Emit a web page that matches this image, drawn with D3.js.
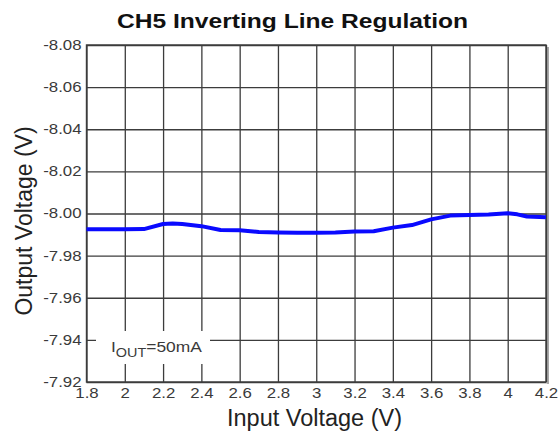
<!DOCTYPE html>
<html>
<head>
<meta charset="utf-8">
<script src="https://cdn.jsdelivr.net/npm/d3@7"></script>
<style>
  html, body { margin: 0; padding: 0; background: #fff; }
  svg { display: block; font-family: Arial, "Liberation Sans", sans-serif; }
</style>
</head>
<body>
<svg id="chart" width="560" height="432"></svg>
<script>
// Input voltage sweep (V) and measured CH5 output voltage (V)
const inputVoltage = [1.8, 2.0, 2.1, 2.2, 2.25, 2.3, 2.4, 2.5, 2.6, 2.7, 2.8, 2.9, 3.0, 3.1, 3.2, 3.3, 3.4, 3.5, 3.6, 3.7, 3.8, 3.9, 4.0, 4.05, 4.1, 4.2];
const outputVoltage = [-7.9925, -7.9925, -7.9926, -7.9950, -7.9953, -7.9950, -7.9940, -7.9922, -7.9920, -7.9912, -7.9910, -7.9909, -7.9909, -7.9910, -7.9915, -7.9916, -7.9933, -7.9945, -7.9972, -7.9990, -7.9993, -7.9995, -8.0001, -7.9996, -7.9986, -7.9982];

const xTickValues = [1.8, 2.0, 2.2, 2.4, 2.6, 2.8, 3.0, 3.2, 3.4, 3.6, 3.8, 4.0, 4.2];
const xTickLabels = ["1.8", "2", "2.2", "2.4", "2.6", "2.8", "3", "3.2", "3.4", "3.6", "3.8", "4", "4.2"];
const yTickValues = [-8.08, -8.06, -8.04, -8.02, -8.00, -7.98, -7.96, -7.94, -7.92];
const yTickLabels = ["-8.08", "-8.06", "-8.04", "-8.02", "-8.00", "-7.98", "-7.96", "-7.94", "-7.92"];

const titleText = "CH5 Inverting Line Regulation";
const xTitle = "Input Voltage (V)";
const yTitle = "Output Voltage (V)";

const svg = d3.select("#chart");
const plot = { left: 86.5, right: 546, top: 45, bottom: 382 };

const x = d3.scaleLinear().domain([1.8, 4.2]).range([plot.left, plot.right]);
const y = d3.scaleLinear().domain([-8.08, -7.92]).range([plot.top, plot.bottom]);

const gridColor = "#3c3c3c";
const labelColor = "#3a3a3a";

// stretch text horizontally by a factor
function widen(sel, k) {
  sel.each(function () {
    const w = this.getComputedTextLength();
    d3.select(this).attr("textLength", w * k).attr("lengthAdjust", "spacingAndGlyphs");
  });
}

// soft shadow along the right edge of the frame
svg.append("rect")
  .attr("x", plot.right + 0.5).attr("y", plot.top + 2)
  .attr("width", 2.5).attr("height", plot.bottom - plot.top)
  .attr("fill", "#a8a8a8");

// vertical grid + x tick labels
const xAxis = d3.axisBottom(x)
  .tickValues(xTickValues)
  .tickFormat((d, i) => xTickLabels[i])
  .tickSize(-(plot.bottom - plot.top))
  .tickSizeOuter(0)
  .tickPadding(6);
const gx = svg.append("g").attr("transform", `translate(0,${plot.bottom})`).call(xAxis);
gx.select(".domain").remove();
gx.selectAll(".tick line").attr("stroke", gridColor).attr("stroke-width", 1.3);
gx.selectAll(".tick text")
  .attr("fill", labelColor).attr("font-size", 14).attr("font-family", "Arial, 'Liberation Sans', sans-serif")
  .attr("dy", "0.71em");
widen(gx.selectAll(".tick text"), 1.2);

// horizontal grid + y tick labels
const yAxis = d3.axisLeft(y)
  .tickValues(yTickValues)
  .tickFormat((d, i) => yTickLabels[i])
  .tickSize(-(plot.right - plot.left))
  .tickSizeOuter(0)
  .tickPadding(5);
const gy = svg.append("g").attr("transform", `translate(${plot.left},0)`).call(yAxis);
gy.select(".domain").remove();
gy.selectAll(".tick line").attr("stroke", gridColor).attr("stroke-width", 1.3);
gy.selectAll(".tick text")
  .attr("fill", labelColor).attr("font-size", 14).attr("font-family", "Arial, 'Liberation Sans', sans-serif");
widen(gy.selectAll(".tick text"), 1.2);

// frame
svg.append("rect")
  .attr("x", plot.left).attr("y", plot.top)
  .attr("width", plot.right - plot.left).attr("height", plot.bottom - plot.top)
  .attr("fill", "none").attr("stroke", gridColor).attr("stroke-width", 1.4);

// load-current annotation on a white patch
svg.append("rect")
  .attr("x", 96).attr("y", 331).attr("width", 114).attr("height", 33)
  .attr("fill", "#fff");
const note = svg.append("text")
  .attr("x", 111).attr("y", 352)
  .attr("font-size", 14.5).attr("fill", labelColor);
note.append("tspan").text("I");
note.append("tspan").attr("font-size", 12).attr("dy", 5).text("OUT");
note.append("tspan").attr("dy", -5).text("=50mA");
widen(note, 1.2);

// measured output line
const line = d3.line()
  .x((d, i) => x(inputVoltage[i]))
  .y(d => y(d));
svg.append("path")
  .datum(outputVoltage)
  .attr("d", line)
  .attr("fill", "none")
  .attr("stroke", "#0a0aff")
  .attr("stroke-width", 4)
  .attr("stroke-linejoin", "round");

// titles
const title = svg.append("text")
  .attr("x", 292.5).attr("y", 28)
  .attr("text-anchor", "middle")
  .attr("font-size", 21).attr("font-weight", "bold").attr("fill", "#111")
  .text(titleText);
widen(title, 351 / title.node().getComputedTextLength());

svg.append("text")
  .attr("x", 314.5).attr("y", 426)
  .attr("text-anchor", "middle")
  .attr("font-size", 23.5).attr("fill", "#222")
  .text(xTitle);

svg.append("text")
  .attr("transform", "translate(31.5,221) rotate(-90)")
  .attr("text-anchor", "middle")
  .attr("font-size", 23).attr("fill", "#222")
  .text(yTitle);
</script>
</body>
</html>
